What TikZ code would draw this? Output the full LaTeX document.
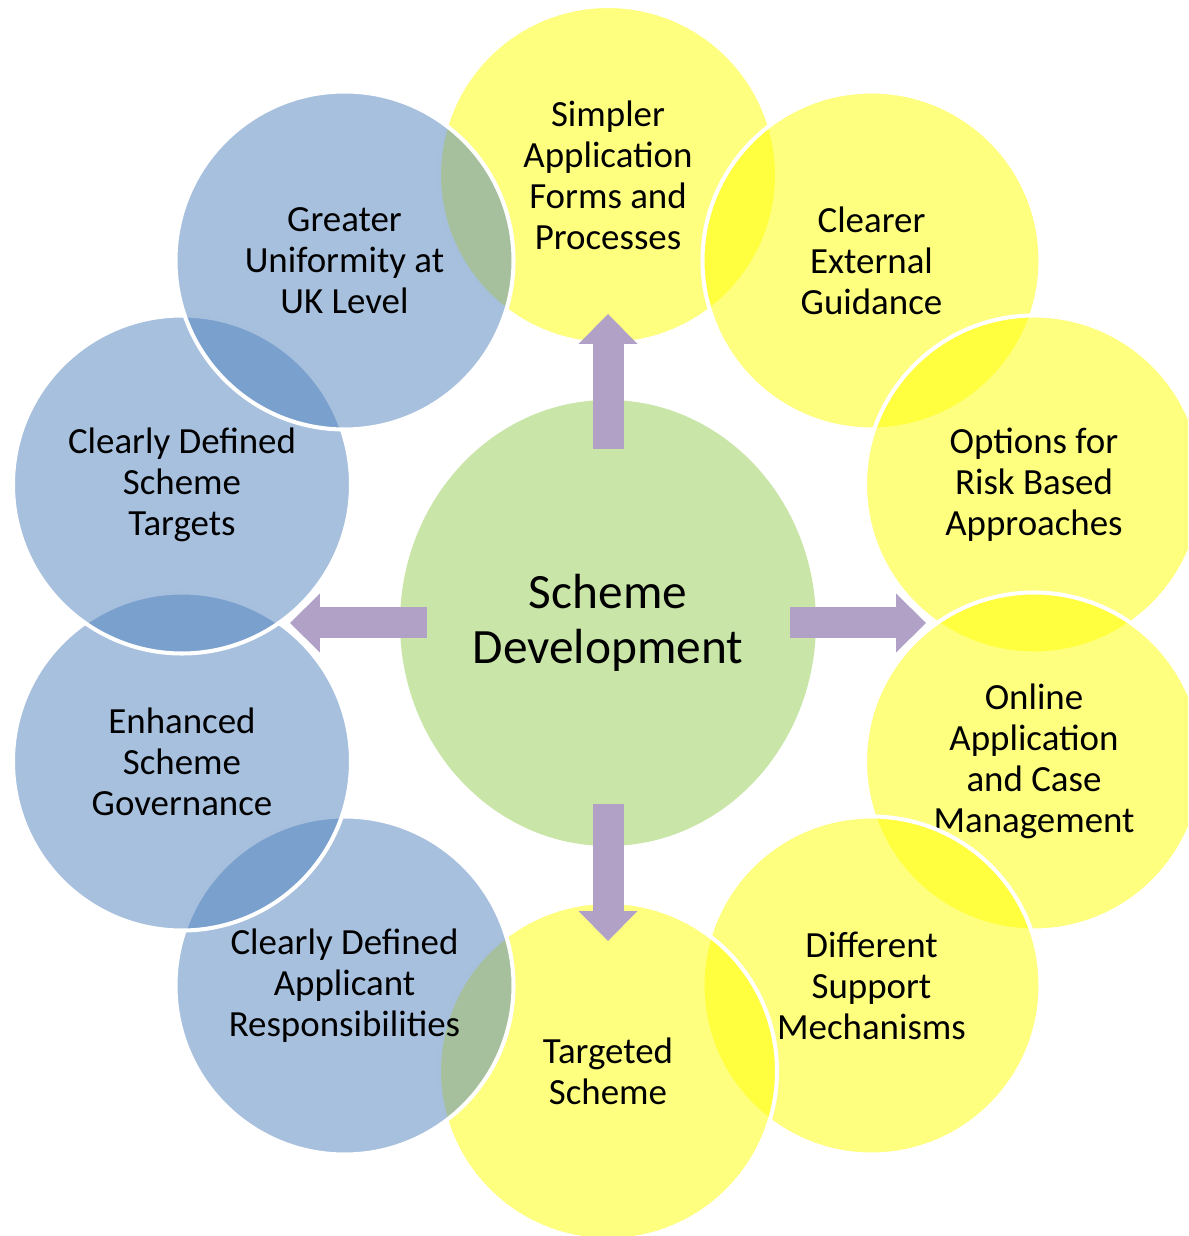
\documentclass[tikz,border=0pt]{standalone}
\usepackage{fontspec}
\setmainfont{Carlito}
\definecolor{bubbleyellow}{RGB}{255, 255, 0}
\definecolor{bubbleblue}{RGB}{79, 129, 189}
\definecolor{coregreen}{RGB}{201, 229, 167}
\definecolor{arrowpurple}{RGB}{177, 161, 199}
\usetikzlibrary{shapes, arrows.meta}
\tikzset{
  bubble/.style={circle, draw=white, line width=2.3pt, minimum size=6.76cm, inner sep=0pt,
    fill opacity=0.5, text opacity=1, align=center, font=\fontsize{21}{23.3}\selectfont},
  yellowbubble/.style={bubble, fill=bubbleyellow},
  bluebubble/.style={bubble, fill=bubbleblue},
  bigarrow/.style={draw=arrowpurple, fill=arrowpurple, line width=0.62cm,
    -{Triangle[width=1.18cm, length=0.6cm, line width=0pt]}}
}

\begin{document}
\begin{tikzpicture}
  \useasboundingbox (-12.16, -12.26) rectangle (11.6, 12.46);
  \clip (-12.16, -12.26) rectangle (11.6, 12.46);

  % Centre
  \node[ellipse, fill=coregreen, minimum width=8.32cm, minimum height=8.92cm, inner sep=0pt,
    align=center, font=\fontsize{28.1}{31.3}\selectfont] (sd) at (0, 0) {Scheme\\Development};

  % Outer ring, clockwise from the top
  \node[yellowbubble] (simpler) at (0, 8.96) {Simpler\\Application\\Forms and\\Processes};
  \node[yellowbubble] (guidance) at (5.27, 7.25) {Clearer\\External\\Guidance};
  \node[yellowbubble] (riskbased) at (8.52, 2.77) {Options for\\Risk Based\\Approaches};
  \node[yellowbubble] (online) at (8.52, -2.77) {Online\\Application\\and Case\\Management};
  \node[yellowbubble] (support) at (5.27, -7.25) {Different\\Support\\Mechanisms};
  \node[yellowbubble] (targeted) at (0, -8.96) {Targeted\\Scheme};
  \node[bluebubble] (applicant) at (-5.27, -7.25) {Clearly Defined\\Applicant\\Responsibilities};
  \node[bluebubble] (governance) at (-8.52, -2.77) {Enhanced\\Scheme\\Governance};
  \node[bluebubble] (targets) at (-8.52, 2.77) {Clearly Defined\\Scheme\\Targets};
  \node[bluebubble] (uniformity) at (-5.27, 7.25) {Greater\\Uniformity at\\UK Level};

  % Arrows out of the centre
  \coordinate (tipup) at (0, 6.18);
  \coordinate (tipright) at (6.36, 0);
  \coordinate (tipdown) at (0, -6.36);
  \coordinate (tipleft) at (-6.36, 0);
  \draw[bigarrow, shorten <=3.48cm] (sd.center) -- (tipup);
  \draw[bigarrow, shorten <=3.64cm] (sd.center) -- (tipright);
  \draw[bigarrow, shorten <=3.62cm] (sd.center) -- (tipdown);
  \draw[bigarrow, shorten <=3.62cm] (sd.center) -- (tipleft);
\end{tikzpicture}
\end{document}
